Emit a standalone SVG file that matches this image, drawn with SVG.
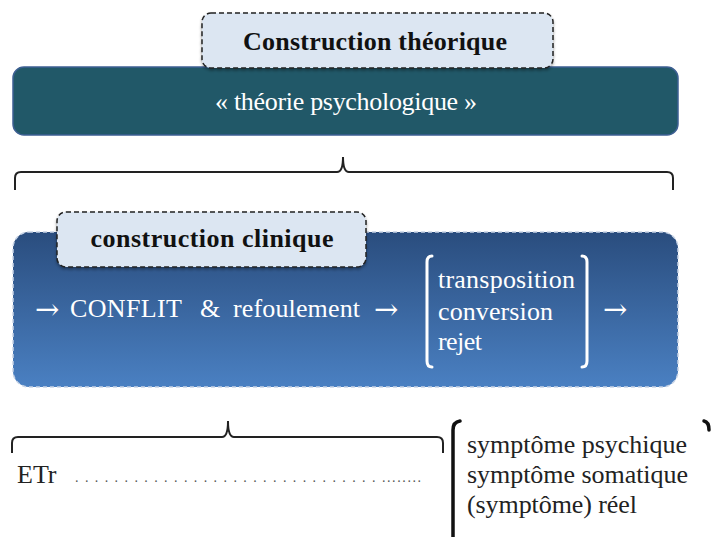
<svg xmlns="http://www.w3.org/2000/svg" width="713" height="537" viewBox="0 0 713 537">
<defs>
<linearGradient id="blueGrad" x1="0" y1="0" x2="0" y2="1">
<stop offset="0" stop-color="#2a4d7e"/>
<stop offset="1" stop-color="#4a80c2"/>
</linearGradient>
<filter id="shadow" x="-10%" y="-20%" width="120%" height="150%">
<feDropShadow dx="0" dy="2" stdDeviation="1.5" flood-color="#000" flood-opacity="0.35"/>
</filter>
</defs>
<style>
text { font-family: "Liberation Serif", "DejaVu Serif", serif; }
.label { fill: #dce6f2; stroke: #222; stroke-width: 1.5; stroke-dasharray: 5 3; }
.lbltext { font-size: 26px; font-weight: bold; fill: #111; }
.white { fill: #fff; font-size: 26px; }
.arrow { fill: #fff; font-size: 29px; font-family: "DejaVu Serif", serif; }
.dark { fill: #222; font-size: 26px; }
.brace { fill: none; stroke: #222; stroke-width: 2; }
.wbr { fill: none; stroke: #fff; stroke-width: 3; stroke-linecap: round; }
.kbr { fill: none; stroke: #111; stroke-width: 3.5; stroke-linecap: round; }
</style>

<g id="theorie">
<rect x="13" y="67" width="665" height="68" rx="11" fill="#215868" stroke="#3d5f92" stroke-width="1.5"/>
<text class="white" x="346" y="110" text-anchor="middle" textLength="262">« théorie psychologique »</text>
</g>

<g id="construction-theorique">
<rect class="label" x="202" y="13" width="351" height="55" rx="9" filter="url(#shadow)"/>
<text class="lbltext" x="375" y="50" text-anchor="middle" textLength="264">Construction théorique</text>
</g>

<g id="clinique">
<rect x="13" y="232" width="665" height="155" rx="16" fill="url(#blueGrad)" stroke="#c8d4e6" stroke-width="1.5" stroke-dasharray="4 3"/>
<text class="arrow" x="35" y="319">→</text>
<text class="white" x="70" y="317" textLength="112">CONFLIT</text>
<text class="white" x="200" y="317">&amp;</text>
<text class="white" x="233" y="317" textLength="127">refoulement</text>
<text class="arrow" x="374" y="319">→</text>
<path class="wbr" d="M432,256 Q427,256 427,262 L427,361 Q427,367 432,367"/>
<path class="wbr" d="M582,256 Q587,256 587,262 L587,361 Q587,367 582,367"/>
<text class="white" x="438" y="288" textLength="137">transposition</text>
<text class="white" x="438" y="320" textLength="115">conversion</text>
<text class="white" x="438" y="350" textLength="44">rejet</text>
<text class="arrow" x="603" y="319">→</text>
</g>

<g id="construction-clinique">
<rect class="label" x="57" y="212" width="309" height="55" rx="9" filter="url(#shadow)"/>
<text class="lbltext" x="212" y="247" text-anchor="middle" textLength="243">construction clinique</text>
</g>

<g id="connectors">
<path class="brace" d="M15,190 L15,178 Q15,172 21,172 L337,172 Q343,172 343,157 Q343,172 349,172 L667,172 Q673,172 673,178 L673,190"/>
<path class="brace" d="M12,453 L12,443 Q12,437 18,437 L222,437 Q228,437 228,421 Q228,437 234,437 L437,437 Q443,437 443,443 L443,453"/>
</g>

<g id="etr">
<text class="dark" x="17" y="483">ETr</text>
<text x="75" y="482" font-size="14" fill="#555"><tspan letter-spacing="6.4">...............................</tspan><tspan letter-spacing="1.6">........</tspan></text>
</g>

<g id="symptomes">
<path class="kbr" d="M460,421 Q453,422 453,430 L453,545"/>
<path class="kbr" d="M704,421 Q709,422 709,430"/>
<text class="dark" x="467" y="453" textLength="220">symptôme psychique</text>
<text class="dark" x="467" y="483" textLength="221">symptôme somatique</text>
<text class="dark" x="467" y="513" textLength="170">(symptôme) réel</text>
</g>
</svg>
